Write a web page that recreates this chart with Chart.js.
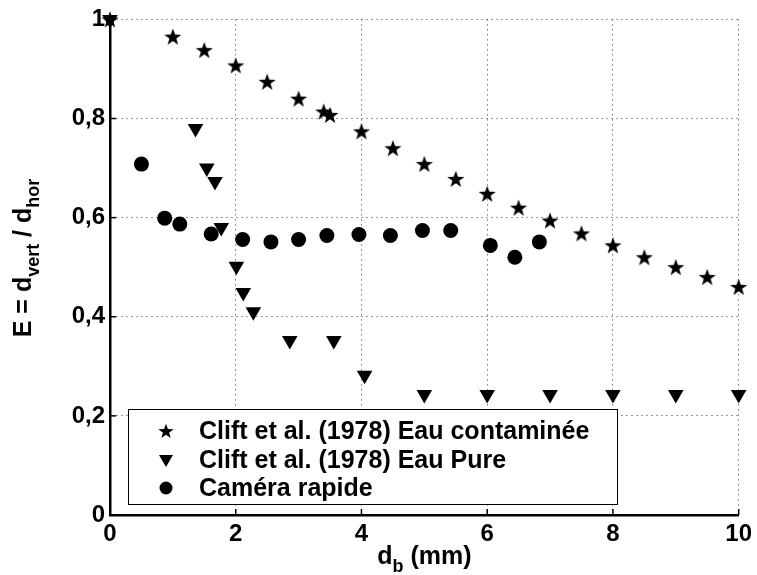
<!DOCTYPE html>
<html>
<head>
<meta charset="utf-8">
<script src="https://cdn.jsdelivr.net/npm/chart.js@4/dist/chart.umd.min.js"></script>
<style>
  body { margin: 0; background: #fff; }
  #wrap { width: 757px; height: 575px; }
</style>
</head>
<body>
<div id="wrap"><canvas id="ellipChart" width="757" height="575"></canvas></div>
<script>
// Clift et al. (1978) - eau contaminee
var contamX = [0, 1.0, 1.5, 2.0, 2.5, 3.0, 3.4, 3.5, 4.0, 4.5, 5.0, 5.5, 6.0, 6.5, 7.0, 7.5, 8.0, 8.5, 9.0, 9.5, 10.0];
var contamY = [1.0, 0.965, 0.938, 0.907, 0.874, 0.840, 0.814, 0.807, 0.774, 0.740, 0.708, 0.678, 0.648, 0.620, 0.594, 0.568, 0.544, 0.520, 0.500, 0.480, 0.460];

// Clift et al. (1978) - eau pure
var pureX = [0, 1.36, 1.54, 1.67, 1.77, 2.01, 2.12, 2.28, 2.86, 3.56, 4.05, 5.0, 6.0, 7.0, 8.0, 9.0, 10.0];
var pureY = [1.0, 0.78, 0.70, 0.673, 0.580, 0.502, 0.449, 0.410, 0.352, 0.352, 0.282, 0.243, 0.243, 0.243, 0.243, 0.243, 0.243];

// camera rapide
var cameraX = [0.50, 0.87, 1.11, 1.61, 2.11, 2.56, 3.0, 3.45, 3.96, 4.46, 4.97, 5.42, 6.05, 6.44, 6.83];
var cameraY = [0.708, 0.599, 0.587, 0.567, 0.556, 0.551, 0.556, 0.564, 0.566, 0.564, 0.574, 0.574, 0.544, 0.520, 0.551];

var legendLabels = ["Clift et al. (1978) Eau contaminée", "Clift et al. (1978) Eau Pure", "Caméra rapide"];
var xTicks = [0, 2, 4, 6, 8, 10];
var yTicks = [0, 0.2, 0.4, 0.6, 0.8, 1];

var FONT = "'Liberation Sans', Arial, Helvetica, sans-serif";

function toPoints(xs, ys) {
	var pts = [];
	for (var i = 0; i < xs.length; i++) pts.push({x: xs[i], y: ys[i]});
	return pts;
}

// filled five point star, used as point style
function makeStar(R) {
	var c = document.createElement("canvas");
	var s = Math.ceil(R * 2 + 2);
	c.width = s; c.height = s;
	var g = c.getContext("2d");
	g.fillStyle = "#000";
	g.beginPath();
	for (var i = 0; i < 10; i++) {
		var r = (i % 2 == 0) ? R : R * 0.4;
		var a = -Math.PI / 2 + i * Math.PI / 5;
		var px = s / 2 + r * Math.cos(a), py = s / 2 + R * 0.08 + r * Math.sin(a);
		if (i == 0) g.moveTo(px, py); else g.lineTo(px, py);
	}
	g.closePath();
	g.fill();
	return c;
}
var starImg = makeStar(9);
var starSmall = makeStar(8);

// text with subscripts: parts = [[text, isSub], ...]
function drawSubText(ctx, parts, cx, cy) {
	var big = "bold 25px " + FONT, small = "bold 18px " + FONT;
	var w = 0;
	parts.forEach(function (p) { ctx.font = p[1] ? small : big; w += ctx.measureText(p[0]).width; });
	var x = cx - w / 2;
	ctx.textBaseline = "alphabetic";
	ctx.textAlign = "left";
	parts.forEach(function (p) {
		ctx.font = p[1] ? small : big;
		ctx.fillText(p[0], x, cy + (p[1] ? 8 : 0));
		x += ctx.measureText(p[0]).width;
	});
}

var extrasPlugin = {
	id: "extras",
	afterDraw: function (chart) {
		var ctx = chart.ctx, area = chart.chartArea;
		var xs = chart.scales.x, ys = chart.scales.y;
		ctx.save();
		// inward ticks
		ctx.strokeStyle = "#000";
		ctx.lineWidth = 1.5;
		xTicks.forEach(function (v) {
			var px = xs.getPixelForValue(v);
			ctx.beginPath(); ctx.moveTo(px, area.bottom); ctx.lineTo(px, area.bottom - 6); ctx.stroke();
		});
		yTicks.forEach(function (v) {
			var py = ys.getPixelForValue(v);
			ctx.beginPath(); ctx.moveTo(area.left, py); ctx.lineTo(area.left + 6, py); ctx.stroke();
		});

		// legend box
		var lx = 128, ly = 409, lw = 489, lh = 95;
		ctx.fillStyle = "#fff";
		ctx.fillRect(lx, ly, lw, lh);
		ctx.lineWidth = 1;
		ctx.strokeStyle = "#000";
		ctx.strokeRect(lx + 0.5, ly + 0.5, lw, lh);
		var rows = [431, 460, 488];
		var mx = 166;
		ctx.fillStyle = "#000";
		ctx.drawImage(starSmall, mx - starSmall.width / 2, rows[0] - starSmall.height / 2);
		ctx.beginPath();
		ctx.moveTo(mx - 7, rows[1] - 5); ctx.lineTo(mx + 7, rows[1] - 5); ctx.lineTo(mx, rows[1] + 7);
		ctx.closePath(); ctx.fill();
		ctx.beginPath(); ctx.arc(mx, rows[2], 6.5, 0, Math.PI * 2); ctx.fill();
		ctx.font = "bold 25px " + FONT;
		ctx.textBaseline = "middle";
		ctx.textAlign = "left";
		for (var i = 0; i < legendLabels.length; i++) ctx.fillText(legendLabels[i], 199, rows[i] + 1);

		// axis titles
		drawSubText(ctx, [["d", false], ["b", true], [" (mm)", false]], (area.left + area.right) / 2, 564);
		ctx.translate(31, 258);
		ctx.rotate(-Math.PI / 2);
		drawSubText(ctx, [["E = d", false], ["vert", true], [" / d", false], ["hor", true]], 0, 0);
		ctx.restore();
	}
};

var ctx = document.getElementById("ellipChart").getContext("2d");
var chart = new Chart(ctx, {
	type: "scatter",
	plugins: [extrasPlugin],
	data: {
		datasets: [
			{
				label: legendLabels[0],
				data: toPoints(contamX, contamY),
				pointStyle: starImg,
				backgroundColor: "#000",
				borderColor: "#000",
				clip: false
			},
			{
				label: legendLabels[1],
				data: toPoints(pureX, pureY),
				pointStyle: "triangle",
				rotation: 180,
				pointRadius: 9,
				backgroundColor: "#000",
				borderColor: "#000",
				borderWidth: 0,
				clip: false
			},
			{
				label: legendLabels[2],
				data: toPoints(cameraX, cameraY),
				pointStyle: "circle",
				pointRadius: 7.5,
				backgroundColor: "#000",
				borderColor: "#000",
				borderWidth: 0,
				clip: false
			}
		]
	},
	options: {
		responsive: false,
		animation: false,
		devicePixelRatio: 1,
		layout: { padding: { top: 17, right: 15, left: 0, bottom: 0 } },
		plugins: { legend: { display: false }, tooltip: { enabled: false } },
		scales: {
			x: {
				type: "linear",
				min: 0, max: 10,
				afterFit: function (s) { s.height = 60; },
				afterBuildTicks: function (s) { s.ticks = xTicks.map(function (v) { return {value: v}; }); },
				border: { display: true, color: "#000", width: 2.5, dash: [1, 4] },
				grid: { color: "#333", lineWidth: 1, drawTicks: false },
				ticks: { color: "#000", padding: 5, font: { family: FONT, size: 24, weight: "bold" }, maxRotation: 0 }
			},
			y: {
				type: "linear",
				min: 0, max: 1,
				afterFit: function (s) { s.width = 110; },
				afterBuildTicks: function (s) { s.ticks = yTicks.map(function (v) { return {value: v}; }); },
				border: { display: true, color: "#000", width: 2.5, dash: [1, 4] },
				grid: { color: "#333", lineWidth: 1, drawTicks: false },
				ticks: {
					color: "#000", padding: 5,
					font: { family: FONT, size: 24, weight: "bold" },
					callback: function (v) { return String(Math.round(v * 10) / 10).replace(".", ","); }
				}
			}
		}
	}
});
</script>
</body>
</html>
